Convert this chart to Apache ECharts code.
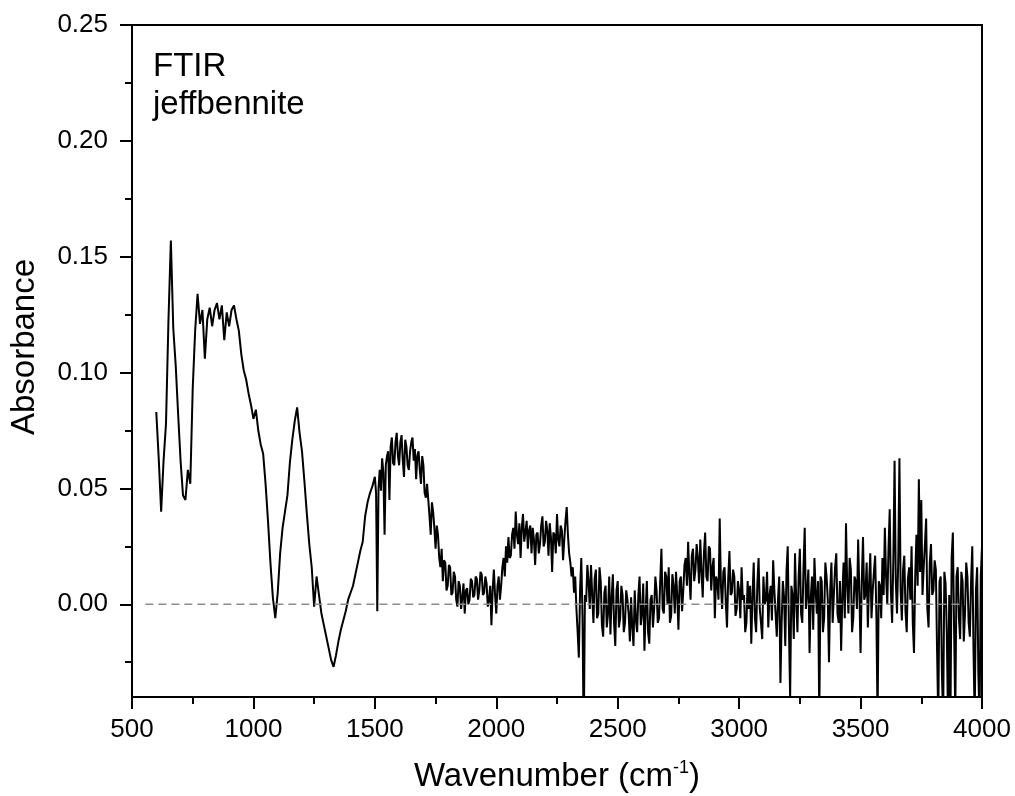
<!DOCTYPE html>
<html>
<head>
<meta charset="utf-8">
<script src="https://cdn.jsdelivr.net/npm/echarts@6/dist/echarts.min.js"></script>
<style>
  html, body { margin: 0; padding: 0; background: #fff; }
  #chart { width: 1015px; height: 796px; }
</style>
</head>
<body>
<div id="chart"></div>
<script>
// low part of the spectrum, read every 10 cm-1 (600 - 1490)
var coarseStart = 600;
var coarseStep = 10;
var abs600 = [0.083, 0.063, 0.040, 0.062, 0.078, 0.122, 0.157, 0.119, 0.103, 0.082,
  0.062, 0.047, 0.045, 0.058, 0.052, 0.093, 0.118, 0.134, 0.121, 0.127,
  0.106, 0.123, 0.128, 0.120, 0.127, 0.130, 0.123, 0.129, 0.114, 0.126,
  0.120, 0.127, 0.129, 0.123, 0.118, 0.108, 0.101, 0.097, 0.091, 0.086];
var abs1000 = [0.080, 0.084, 0.075, 0.069, 0.065, 0.052, 0.036, 0.018, 0.003, -0.006,
  0.005, 0.022, 0.033, 0.040, 0.047, 0.061, 0.071, 0.079, 0.085, 0.074,
  0.066, 0.053, 0.039, 0.026, 0.016, -0.001, 0.012, 0.004, -0.004, -0.009,
  -0.014, -0.019, -0.024, -0.027, -0.022, -0.016, -0.011, -0.007, -0.003, 0.002,
  0.005, 0.008, 0.013, 0.018, 0.023, 0.027, 0.038, 0.044, 0.048, 0.051];

// noisy part, read every 5 cm-1 (1500 - 4000)
var fineStart = 1500;
var fineStep = 5;
var abs1500 = [0.055, 0.048, -0.003, 0.050, 0.058, 0.049, 0.063, 0.057, 0.030, 0.060,
  0.064, 0.066, 0.045, 0.068, 0.072, 0.061, 0.060, 0.070, 0.074, 0.064,
  0.060, 0.070, 0.073, 0.062, 0.055, 0.071, 0.068, 0.060, 0.058, 0.066,
  0.070, 0.072, 0.062, 0.067, 0.054, 0.064, 0.066, 0.058, 0.052, 0.064,
  0.060, 0.048, 0.046, 0.052, 0.045, 0.038, 0.030, 0.044, 0.040, 0.033,
  0.024, 0.034, 0.030, 0.020, 0.016, 0.024, 0.010, 0.019, 0.018, 0.006,
  0.008, 0.017, 0.016, 0.004, 0.005, 0.014, 0.012, 0.002, -0.001, 0.010,
  0.008, -0.002, 0.003, 0.009, -0.004, 0.006, 0.007, 0.000, 0.002, 0.011,
  0.010, 0.003, 0.004, 0.012, 0.011, 0.002, 0.006, 0.014, 0.013, 0.004,
  0.005, 0.012, 0.009, -0.001, 0.002, 0.008, -0.009, 0.006, 0.015, 0.004];
var abs2000 = [-0.004, 0.008, 0.012, 0.002, 0.008, 0.016, 0.020, 0.012, 0.025, 0.018,
  0.029, 0.020, 0.021, 0.030, 0.033, 0.024, 0.040, 0.030, 0.026, 0.035,
  0.020, 0.033, 0.039, 0.027, 0.031, 0.036, 0.024, 0.032, 0.034, 0.022,
  0.033, 0.028, 0.017, 0.030, 0.031, 0.022, 0.026, 0.034, 0.038, 0.025,
  0.027, 0.036, 0.032, 0.021, 0.035, 0.029, 0.014, 0.031, 0.030, 0.022,
  0.039, 0.028, 0.025, 0.034, 0.032, 0.019, 0.028, 0.036, 0.042, 0.030,
  0.022, 0.018, 0.012, 0.016, 0.005, 0.012, -0.002, -0.012, -0.023, 0.006,
  0.020, -0.005, -0.060, 0.004, 0.001, 0.017, 0.010, -0.002, 0.017, 0.004,
  -0.008, 0.011, 0.015, -0.006, -0.004, 0.016, 0.010, -0.009, -0.014, 0.005,
  0.008, -0.010, -0.004, 0.012, -0.013, 0.003, 0.013, -0.008, -0.018, 0.006];
var abs2500 = [0.010, -0.010, -0.006, 0.008, 0.004, -0.012, -0.008, 0.006, 0.002, -0.004,
  -0.016, 0.003, -0.010, -0.018, 0.006, -0.007, -0.012, 0.004, 0.012, -0.009,
  -0.004, 0.009, -0.020, -0.003, 0.010, -0.012, -0.017, 0.002, 0.004, -0.010,
  -0.002, 0.012, 0.006, -0.008, -0.006, 0.010, 0.024, -0.002, -0.004, 0.014,
  0.012, 0.000, 0.016, -0.008, -0.005, 0.013, 0.008, -0.004, 0.014, 0.004,
  -0.011, 0.010, 0.012, -0.003, 0.006, 0.017, 0.020, 0.008, 0.027, 0.012,
  0.002, 0.021, 0.024, 0.010, 0.015, 0.026, 0.020, 0.009, 0.028, 0.014,
  0.003, 0.022, 0.031, 0.012, 0.010, 0.025, 0.024, 0.006, 0.016, 0.020,
  -0.006, 0.012, 0.010, 0.002, 0.037, 0.008, -0.002, 0.014, 0.016, 0.001,
  -0.010, 0.011, 0.023, 0.004, 0.005, 0.015, 0.012, -0.005, -0.002, 0.010];
var abs3000 = [0.006, -0.006, 0.016, 0.002, 0.004, -0.012, -0.008, 0.010, -0.002, 0.008,
  -0.017, 0.004, 0.018, -0.006, -0.012, 0.009, 0.020, -0.002, -0.008, -0.015,
  0.012, 0.000, 0.002, 0.014, -0.010, 0.004, 0.008, -0.007, 0.019, 0.006,
  -0.004, -0.014, 0.002, 0.012, -0.034, -0.008, 0.010, 0.003, -0.018, 0.014,
  0.025, -0.010, -0.040, 0.008, 0.004, -0.015, 0.022, 0.002, -0.012, 0.012,
  0.024, -0.004, -0.008, 0.016, 0.033, -0.002, 0.005, 0.015, -0.021, 0.003,
  0.012, -0.011, 0.020, 0.006, -0.004, 0.010, -0.050, 0.012, 0.010, -0.012,
  -0.006, 0.018, 0.012, 0.002, -0.025, 0.006, 0.018, -0.008, 0.004, 0.016,
  0.022, -0.004, -0.008, 0.010, -0.020, 0.004, 0.018, -0.006, 0.035, 0.008,
  -0.004, 0.020, 0.015, -0.012, -0.006, 0.012, 0.010, -0.002, 0.028, 0.006];
var abs3500 = [-0.021, 0.010, 0.029, 0.002, 0.004, 0.018, -0.010, 0.009, 0.022, -0.006,
  0.006, 0.014, 0.021, -0.004, -0.050, 0.010, 0.008, -0.006, 0.020, 0.004,
  0.033, 0.012, 0.000, 0.024, 0.041, 0.005, -0.008, 0.020, 0.062, 0.010,
  -0.004, 0.018, 0.063, 0.006, -0.007, 0.015, 0.021, -0.003, -0.012, 0.011,
  0.016, 0.002, 0.025, -0.008, -0.021, 0.012, 0.030, 0.008, 0.054, 0.014,
  0.045, 0.004, 0.016, 0.026, 0.037, -0.002, -0.010, 0.018, 0.026, 0.004,
  0.006, 0.019, 0.015, -0.020, -0.050, 0.010, 0.012, -0.030, -0.050, 0.014,
  0.009, -0.012, -0.050, 0.004, -0.050, 0.020, 0.031, -0.010, -0.048, 0.012,
  0.016, -0.006, -0.015, 0.014, 0.010, -0.016, -0.004, 0.018, 0.012, -0.008,
  -0.014, 0.010, 0.025, -0.020, -0.050, 0.006, 0.016, -0.030, -0.050, 0.012,
  0.025];

// dashed zero line
var baselineX = [555, 3930];
var baselineY = 0;

var yTicks = [0, 0.05, 0.10, 0.15, 0.20, 0.25];
var yMinorTicks = [-0.025, 0.025, 0.075, 0.125, 0.175, 0.225];

function toPoints(values, start, step) {
  return values.map(function (v, i) { return [start + i * step, v]; });
}
var spectrum = toPoints(abs600.concat(abs1000), coarseStart, coarseStep)
  .concat(toPoints(abs1500.concat(abs2000, abs2500, abs3000, abs3500), fineStart, fineStep));
var baseline = baselineX.map(function (x) { return [x, baselineY]; });

var font = '"Liberation Sans", Arial, sans-serif';
var chart = echarts.init(document.getElementById('chart'));

var option = {
  animation: false,
  backgroundColor: '#fff',
  grid: {
    left: 132, right: 33, top: 25, bottom: 99,
    outerBoundsMode: 'none',
    containLabel: false,
    show: true, borderColor: '#000', borderWidth: 2
  },
  xAxis: {
    type: 'value',
    min: 500, max: 4000, interval: 500,
    axisLine: { onZero: false, lineStyle: { color: '#000', width: 2 } },
    axisTick: { length: 12, lineStyle: { color: '#000', width: 2 } },
    minorTick: { show: true, splitNumber: 2, length: 7, lineStyle: { color: '#000', width: 2 } },
    splitLine: { show: false },
    axisLabel: {
      color: '#000', fontSize: 26, fontFamily: font, margin: 20,
      formatter: function (v) { return String(v); }
    },
    name: '{t|Wavenumber (cm}{s|-1}{t|)}',
    nameLocation: 'middle',
    nameGap: 62,
    nameTextStyle: {
      rich: {
        t: { fontSize: 33, fontFamily: font, color: '#000', lineHeight: 36 },
        s: { fontSize: 18, fontFamily: font, color: '#000', verticalAlign: 'top', lineHeight: 36 }
      }
    }
  },
  yAxis: [{
    type: 'value',
    min: -0.04, max: 0.25,
    axisLine: { onZero: false, lineStyle: { color: '#000', width: 2 } },
    axisTick: { customValues: yTicks, length: 12, lineStyle: { color: '#000', width: 2 } },
    splitLine: { show: false },
    axisLabel: {
      customValues: yTicks,
      color: '#000', fontSize: 26, fontFamily: font, margin: 24,
      formatter: function (v) { return v.toFixed(2); }
    },
    name: 'Absorbance',
    nameLocation: 'middle',
    nameGap: 91,
    nameTextStyle: { fontSize: 33, fontFamily: font, color: '#000', padding: [0, 0, 0, 28] }
  }, {
    type: 'value',
    position: 'left',
    min: -0.04, max: 0.25,
    axisLine: { show: false, onZero: false },
    axisTick: { customValues: yMinorTicks, length: 7, lineStyle: { color: '#000', width: 2 } },
    axisLabel: { show: false },
    splitLine: { show: false }
  }],
  graphic: [
    { type: 'text', left: 153, top: 50, style: { text: 'FTIR', font: '33px ' + font, fill: '#000' } },
    { type: 'text', left: 153, top: 88, style: { text: 'jeffbennite', font: '33px ' + font, fill: '#000' } }
  ],
  series: [{
    name: 'FTIR',
    type: 'line',
    data: spectrum,
    showSymbol: false,
    clip: true,
    lineStyle: { color: '#000', width: 2 },
    z: 2
  }, {
    name: 'zero',
    type: 'line',
    data: baseline,
    showSymbol: false,
    lineStyle: { color: '#8c8c8c', width: 1.5, type: [8, 5] },
    z: 3
  }]
};
chart.setOption(option);
</script>
</body>
</html>
